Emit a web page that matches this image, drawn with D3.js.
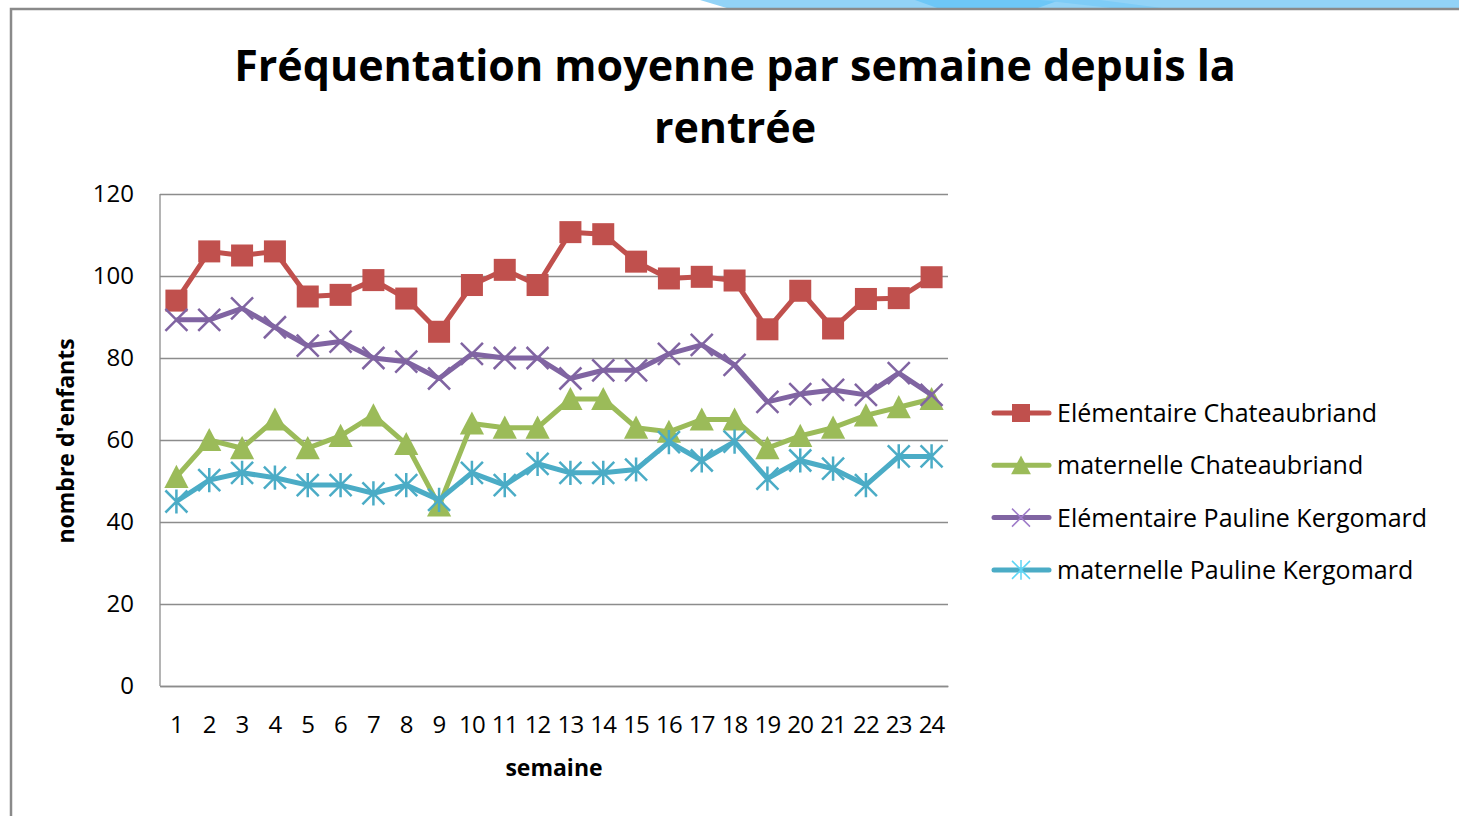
<!DOCTYPE html>
<html>
<head>
<meta charset="utf-8">
<script src="https://cdn.jsdelivr.net/npm/d3@7"></script>
<style>
body { margin: 0; background: #fff; }
text { font-family: "Open Sans", Lato, "Liberation Sans", sans-serif; fill: #000; }
</style>
</head>
<body>
<div id="chart"></div>
<script>
// semaines depuis la rentrée
const semaines = d3.range(1, 25).map(String);

const elemChateaubriand = [94, 106, 105, 106, 95, 95.4, 99, 94.5, 86.4, 97.8, 101.5, 97.8,
    110.7, 110.2, 103.5, 99.4, 99.8, 98.9, 87, 96.4, 87.2, 94.4, 94.6, 99.7];
const matChateaubriand = [51, 60, 58, 65, 58, 61, 66, 59, 44, 64, 63, 63,
    70, 70, 63, 62, 65, 65, 58, 61, 63, 66, 68, 70];
const elemKergomard = [89.3, 89.3, 92.1, 87.5, 83, 84, 80, 79.1, 75, 81, 80, 80,
    75, 77, 77, 81, 83.2, 78.3, 69.3, 71.2, 72.2, 71, 76.3, 71];
const matKergomard = [45, 50.2, 52, 50.8, 49, 49, 47, 49, 45.4, 52, 49, 54.2,
    52, 52, 52.8, 59.5, 55, 59.6, 50.6, 55, 53, 49, 56, 56];

const yTicks = [0, 20, 40, 60, 80, 100, 120];

const series = [
    {name: 'Elémentaire Chateaubriand', values: elemChateaubriand, color: '#C0504D', marker: 'square'},
    {name: 'maternelle Chateaubriand', values: matChateaubriand, color: '#9BBB59', marker: 'triangle'},
    {name: 'Elémentaire Pauline Kergomard', values: elemKergomard, color: '#8064A2', marker: 'x'},
    {name: 'maternelle Pauline Kergomard', values: matKergomard, color: '#4BACC6', marker: 'star'}
];

const width = 1459;
const height = 816;
const plot = {left: 160, right: 948, top: 194, bottom: 686};

const svg = d3.select('#chart')
    .append('svg')
    .attr('width', width)
    .attr('height', height);

/* decoration du haut (diapo) */
const deco = svg.append('g');
deco.append('path')
    .attr('d', 'M700,0 L1459,0 L1459,9 L730,9 Z')
    .attr('fill', '#92D3F7');
deco.append('path')
    .attr('d', 'M915,0 L1060,0 L1035,9 L940,9 Z')
    .attr('fill', '#6DC7F7');
deco.append('path')
    .attr('d', 'M1040,0 L1100,0 L1170,9 L1120,9 Z')
    .attr('fill', '#7ECCF7');

/* cadre */
svg.append('path')
    .attr('d', `M11,${height} L11,9 L${width},9`)
    .attr('fill', 'none')
    .attr('stroke', '#8A8A8A')
    .attr('stroke-width', 2.5);

const x = d3.scaleBand()
    .domain(semaines)
    .range([plot.left, plot.right]);

const y = d3.scaleLinear()
    .domain([0, 120])
    .range([plot.bottom, plot.top]);

const cx = i => x(semaines[i]) + x.bandwidth() / 2;

/* grille + axe Y */
const yAxis = svg.append('g')
    .attr('transform', `translate(${plot.left},0)`)
    .call(d3.axisLeft(y)
        .tickValues(yTicks)
        .tickSize(-(plot.right - plot.left))
        .tickPadding(26));
yAxis.select('.domain').remove();
yAxis.selectAll('.tick line')
    .attr('stroke', '#8C8C8C')
    .attr('stroke-width', 1.3);
yAxis.selectAll('.tick text')
    .attr('font-size', 24)
    .attr('font-family', null)
    .attr('fill', '#000');

// axe vertical
svg.append('line')
    .attr('x1', plot.left).attr('x2', plot.left)
    .attr('y1', plot.top).attr('y2', plot.bottom)
    .attr('stroke', '#8C8C8C')
    .attr('stroke-width', 1.3);

/* axe X */
const xAxis = svg.append('g')
    .attr('transform', `translate(0,${plot.bottom})`)
    .call(d3.axisBottom(x).tickSize(0).tickPadding(30));
xAxis.select('.domain')
    .attr('stroke', '#8C8C8C')
    .attr('stroke-width', 1.3);
xAxis.selectAll('.tick text')
    .attr('font-size', 24)
    .attr('font-family', null)
    .attr('fill', '#000')
    .attr('letter-spacing', -0.8);

/* titres */
const title = svg.append('text')
    .attr('x', 735)
    .attr('text-anchor', 'middle')
    .attr('font-size', 43)
    .attr('font-weight', 'bold');
title.append('tspan').attr('x', 735).attr('y', 81).text('Fréquentation moyenne par semaine depuis la');
title.append('tspan').attr('x', 735).attr('y', 143).text('rentrée');

svg.append('text')
    .attr('x', 554)
    .attr('y', 776)
    .attr('text-anchor', 'middle')
    .attr('font-size', 23)
    .attr('font-weight', 'bold')
    .text('semaine');

svg.append('text')
    .attr('transform', 'translate(74,441) rotate(-90)')
    .attr('text-anchor', 'middle')
    .attr('font-size', 23)
    .attr('font-weight', 'bold')
    .text("nombre d'enfants");

/* marqueurs */
const drawMarker = (g, type, color, s, light) => {
    if (type === 'square') {
        g.append('rect')
            .attr('x', -s / 2).attr('y', -s / 2)
            .attr('width', s).attr('height', s)
            .attr('fill', color);
    } else if (type === 'triangle') {
        g.append('path')
            .attr('d', `M0,${-s * 0.55} L${s * 0.55},${s * 0.5} L${-s * 0.55},${s * 0.5} Z`)
            .attr('fill', color);
    } else if (type === 'x') {
        const h = s / 2;
        g.append('path')
            .attr('d', `M${-h},${-h} L${h},${h} M${-h},${h} L${h},${-h}`)
            .attr('stroke', color)
            .attr('stroke-width', light ? 1.5 : 2.5);
    } else {
        const h = s / 2;
        g.append('path')
            .attr('d', `M${-h},${-h} L${h},${h} M${-h},${h} L${h},${-h} M0,${-h * 1.1} L0,${h * 1.1}`)
            .attr('stroke', color)
            .attr('stroke-width', light ? 1.5 : 2.5);
    }
};

const line = d3.line()
    .x((d, i) => cx(i))
    .y(d => y(d));

series.forEach(s => {
    const g = svg.append('g');
    g.append('path')
        .datum(s.values)
        .attr('d', line)
        .attr('fill', 'none')
        .attr('stroke', s.color)
        .attr('stroke-width', 5)
        .attr('stroke-linejoin', 'round');

    g.selectAll('.m')
        .data(s.values)
        .enter()
        .append('g')
        .attr('transform', (d, i) => `translate(${cx(i)},${y(d)})`)
        .each(function () {
            drawMarker(d3.select(this), s.marker, s.color, 22, false);
        });
});

/* legende */
const legend = svg.append('g');
series.forEach((s, i) => {
    const ly = 413 + i * 52.3;
    const row = legend.append('g').attr('transform', `translate(0,${ly})`);
    row.append('line')
        .attr('x1', 994).attr('x2', 1049)
        .attr('stroke', s.color)
        .attr('stroke-width', 5)
        .attr('stroke-linecap', 'round');
    const m = row.append('g').attr('transform', 'translate(1021,0)');
    const light = d3.color(s.color).brighter(0.6).formatHex();
    drawMarker(m, s.marker, s.marker === 'x' || s.marker === 'star' ? light : s.color, 18, true);
    row.append('text')
        .attr('x', 1057)
        .attr('y', 9)
        .attr('font-size', 25)
        .text(s.name);
});
</script>
</body>
</html>
